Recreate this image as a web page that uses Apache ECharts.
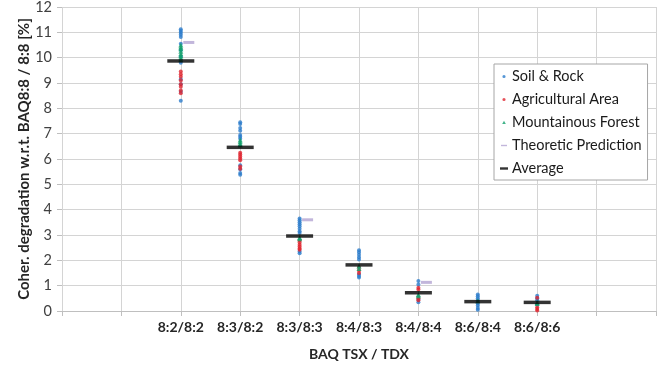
<!DOCTYPE html>
<html>
<head>
<meta charset="utf-8">
<script src="https://cdn.jsdelivr.net/npm/echarts@6/dist/echarts.min.js"></script>
<style>html,body{margin:0;padding:0;background:#fff}#c{width:664px;height:366px}</style>
</head>
<body>
<div id="c"></div>
<script>
var categories = ['8:2/8:2','8:3/8:2','8:3/8:3','8:4/8:3','8:4/8:4','8:6/8:4','8:6/8:6'];
var yTicks = [0,1,2,3,4,5,6,7,8,9,10,11,12];

var soilRock = [
  [11.12,11.05,10.98,10.9,10.82,10.55,10.3,10.05,9.8,9.15,8.95,8.65,8.3],
  [7.45,7.38,7.22,7.12,6.95,6.88,6.8,5.75,5.6,5.45,5.38],
  [3.65,3.58,3.5,3.42,3.35,3.25,3.15,3.08,2.35,2.28],
  [2.4,2.32,2.22,2.12,2.03,1.45,1.38,1.32],
  [1.18,1.05,0.45,0.35],
  [0.65,0.58,0.5,0.42,0.3,0.22,0.12,0.05],
  [0.6,0.5,0.42,0.25]
];
var agricultural = [
  [9.45,9.35,9.25,9.1,8.95,8.85,8.7,8.6],
  [6.25,6.18,6.1,6.02,5.95,5.7,5.62],
  [2.78,2.7,2.62,2.55,2.47,2.42],
  [1.72,1.6,1.5],
  [0.92,0.85,0.5,0.42],
  [],
  [0.52,0.15,0.08,0.02]
];
var mountainous = [
  [10.5,10.42,10.35,10.25,10.15,10.08,10.0,9.93],
  [6.75,6.68,6.6,6.55],
  [2.9,2.85],
  [1.78,1.68],
  [0.6,0.65],
  [0.4],
  [0.3,0.35]
];
var theoretic = [10.6, null, 3.6, null, 1.13, null, null];
var average = [9.87, 6.46, 2.96, 1.82, 0.72, 0.37, 0.34];

var X_OFFSET = 2; // first category sits at x = 2 on a 0..10 axis
function pairs(groups) {
  var out = [];
  groups.forEach(function (g, i) { g.forEach(function (v) { out.push([i + X_OFFSET, v]); }); });
  return out;
}
function single(arr) {
  var out = [];
  arr.forEach(function (v, i) { if (v != null) out.push([i + X_OFFSET, v]); });
  return out;
}

var FONT = 'Lato';
var dot = 'path://M0,0M10,10M5,3.4A1.6,1.6 0 1 1 4.99,3.4Z';
var tri = 'path://M0,0M10,10M5,3.2L6.8,6.4L3.2,6.4Z';
var dashL = 'path://M0,0M10,10M2,4.3H8V5.7H2Z';
var dashB = 'path://M0,0M10,10M1,3.8H9V6.2H1Z';

var chart = echarts.init(document.getElementById('c'), null, {renderer: 'canvas'});
chart.setOption({
  animation: false,
  backgroundColor: '#fff',
  textStyle: {fontFamily: FONT},
  grid: {left: 62, right: 8, top: 7, bottom: 55, outerBoundsMode: 'none', containLabel: false},
  legend: {
    orient: 'vertical',
    left: 494, top: 64,
    width: 149,
    padding: [5, 6, 4, 5],
    itemGap: 8,
    itemWidth: 10, itemHeight: 10,
    backgroundColor: '#fff',
    borderColor: '#a6a6a6', borderWidth: 1,
    textStyle: {fontFamily: FONT, fontSize: 14.5, color: '#1a1a1a', padding: [0,0,0,-2]},
    data: [
      {name: 'Soil & Rock', icon: dot},
      {name: 'Agricultural Area', icon: dot},
      {name: 'Mountainous Forest', icon: tri},
      {name: 'Theoretic Prediction', icon: dashL},
      {name: 'Average', icon: dashB}
    ]
  },
  xAxis: {
    type: 'value', min: 0, max: 10, interval: 1,
    name: 'BAQ TSX / TDX', nameLocation: 'middle', nameGap: 36, nameMoveOverlap: false,
    nameTextStyle: {fontFamily: FONT, fontSize: 14, fontWeight: 'bold', color: '#262626'},
    axisLine: {show: true, lineStyle: {color: '#bfbfbf'}},
    axisTick: {show: true, length: 5, lineStyle: {color: '#bfbfbf'}},
    splitLine: {show: true, lineStyle: {color: '#d4d4d4'}},
    axisLabel: {
      fontFamily: FONT, fontSize: 14, fontWeight: 'bold', color: '#262626', margin: 9,
      formatter: function (v) { var c = categories[v - X_OFFSET]; return c || ''; }
    }
  },
  yAxis: {
    type: 'value', min: yTicks[0], max: yTicks[yTicks.length - 1], interval: 1,
    name: 'Coher. degradation w.r.t. BAQ8:8 / 8:8 [%]', nameLocation: 'middle', nameGap: 30,
    nameMoveOverlap: false,
    nameTextStyle: {fontFamily: FONT, fontSize: 15, fontWeight: 'bold', color: '#262626'},
    axisLine: {show: false},
    axisTick: {show: true, length: 5, lineStyle: {color: '#bfbfbf'}},
    splitLine: {show: true, lineStyle: {color: '#d4d4d4'}},
    axisLabel: {fontFamily: FONT, fontSize: 14.5, color: '#404040', margin: 10}
  },
  series: [
    {name: 'Soil & Rock', type: 'scatter', symbol: 'circle', symbolSize: 4,
      itemStyle: {color: '#2a7ccc'}, data: pairs(soilRock), z: 2},
    {name: 'Agricultural Area', type: 'scatter', symbol: 'circle', symbolSize: 4,
      itemStyle: {color: '#e0262f'}, data: pairs(agricultural), z: 3},
    {name: 'Mountainous Forest', type: 'scatter', symbol: 'triangle', symbolSize: 5,
      itemStyle: {color: '#12a06c'}, data: pairs(mountainous), z: 4},
    {name: 'Theoretic Prediction', type: 'scatter', symbol: 'rect', symbolSize: [11, 3],
      symbolOffset: [8, 0], itemStyle: {color: '#b3a4d2'}, data: single(theoretic), z: 5},
    {name: 'Average', type: 'scatter', symbol: 'rect', symbolSize: [27, 3.5],
      itemStyle: {color: '#000'}, data: single(average), z: 6}
  ]
});
</script>
</body>
</html>
